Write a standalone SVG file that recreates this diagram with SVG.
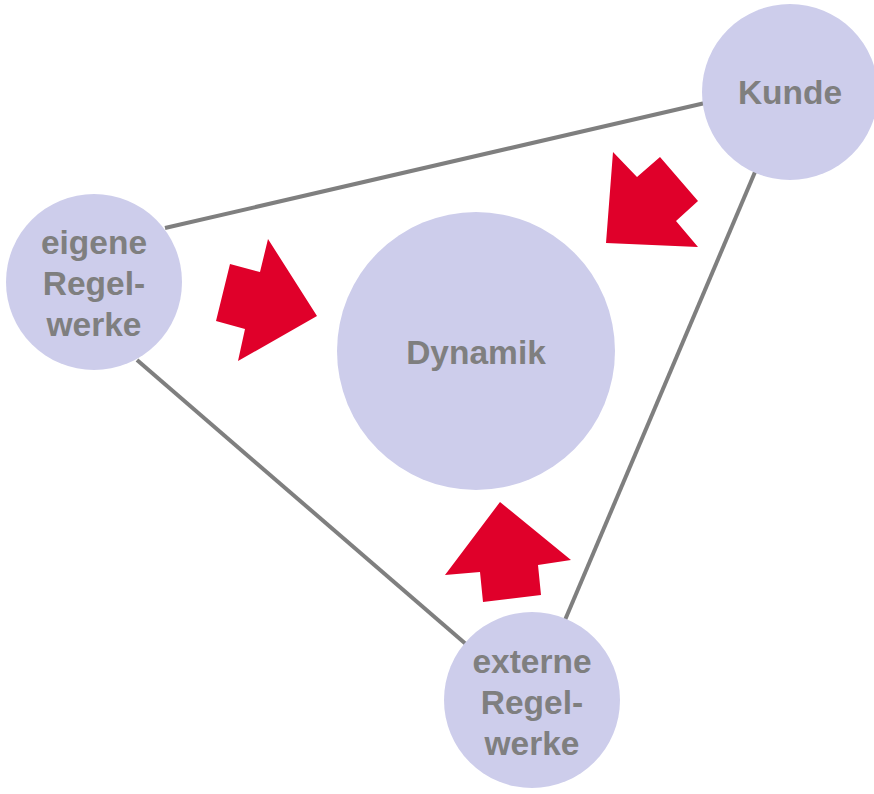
<svg xmlns="http://www.w3.org/2000/svg" width="874" height="794" viewBox="0 0 874 794">
<style>
.c{fill:#cdcdeb}
.t{font-family:"Liberation Sans",Arial,sans-serif;font-weight:bold;font-size:33.5px;fill:#7f7f7f;text-anchor:middle}
.l{stroke:#7f7f7f;stroke-width:4;fill:none}
.a{fill:#e0002a}
</style>
<rect width="874" height="794" fill="#fff"/>
<g id="connectors">
<line class="l" x1="165" y1="228" x2="705" y2="103"/>
<line class="l" x1="137" y1="360" x2="467" y2="645"/>
<line class="l" x1="755" y1="172" x2="565" y2="620"/>
</g>
<g id="arrows">
<polygon class="a" points="230,264 260,272 268,239 317,316 238,361 245,329 216,321"/>
<polygon class="a" points="613,152 637,177 660,157 698,201 676,221 698,247 606,243"/>
<polygon class="a" points="500,502 571,560 538,565 541,595 483,602 480,572 445,575"/>
</g>
<g id="eigene">
<circle class="c" cx="94" cy="282" r="88"/>
<text class="t"><tspan x="94" y="254">eigene</tspan><tspan x="94" y="295">Regel-</tspan><tspan x="94" y="336">werke</tspan></text>
</g>
<g id="kunde">
<circle class="c" cx="790" cy="92" r="88"/>
<text class="t" x="790" y="104">Kunde</text>
</g>
<g id="dynamik">
<circle class="c" cx="476" cy="351" r="139"/>
<text class="t" x="476" y="364">Dynamik</text>
</g>
<g id="externe">
<circle class="c" cx="532" cy="700" r="88"/>
<text class="t"><tspan x="532" y="673">externe</tspan><tspan x="532" y="714">Regel-</tspan><tspan x="532" y="755">werke</tspan></text>
</g>
</svg>
